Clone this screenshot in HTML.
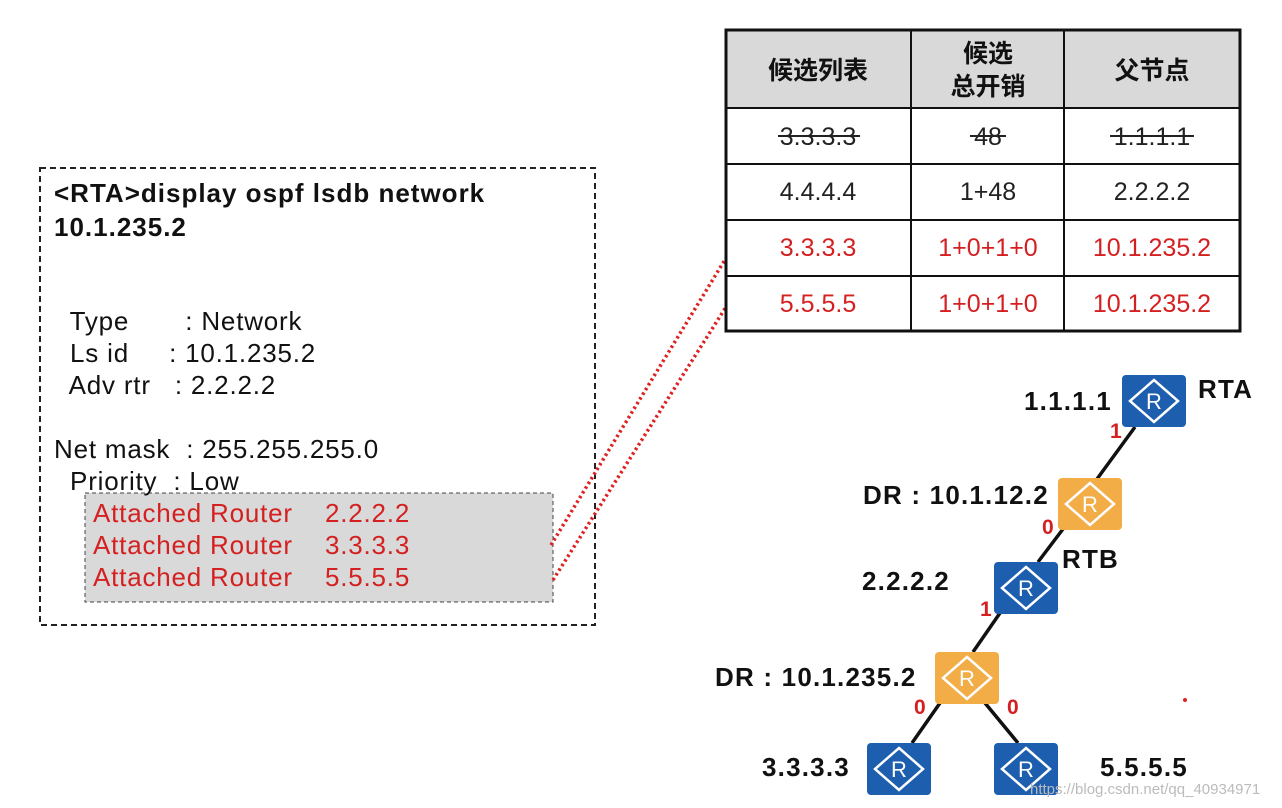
<!DOCTYPE html>
<html><head><meta charset="utf-8"><style>
body{margin:0;width:1282px;height:808px;background:#fff;overflow:hidden;position:relative;font-family:"Liberation Sans","Noto Sans CJK SC",sans-serif}
.a{position:absolute;white-space:pre}
</style></head><body>
<svg width="1282" height="808" style="position:absolute;left:0;top:0" font-family="Liberation Sans, Noto Sans CJK SC, sans-serif">
<defs>
<g id="ri"><polygon points="32,5 56,26 32,47 8,26" fill="none" stroke="#fff" stroke-width="2.5"/><text x="32" y="34" fill="#fff" font-size="22" text-anchor="middle">R</text></g>
</defs>
<rect x="40" y="168" width="555" height="457" fill="none" stroke="#222" stroke-width="2" stroke-dasharray="6,4"/>
<rect x="85" y="493" width="468" height="109" fill="#d9d9d9" stroke="#444" stroke-width="1" stroke-dasharray="4,3"/>
<line x1="551" y1="545" x2="726" y2="258" stroke="#d22" stroke-width="3.5" stroke-dasharray="2.5,3"/>
<line x1="553" y1="580" x2="726" y2="307" stroke="#d22" stroke-width="3.5" stroke-dasharray="2.5,3"/>
<rect x="726" y="30" width="514" height="78" fill="#d9d9d9"/>
<g stroke="#111" stroke-width="2" fill="none">
<rect x="726" y="30" width="514" height="301" stroke-width="3"/>
<line x1="911" y1="30" x2="911" y2="331"/><line x1="1064" y1="30" x2="1064" y2="331"/>
<line x1="726" y1="108" x2="1240" y2="108"/><line x1="726" y1="164" x2="1240" y2="164"/>
<line x1="726" y1="220" x2="1240" y2="220"/><line x1="726" y1="276" x2="1240" y2="276"/>
</g>
<g font-size="25" text-anchor="middle" font-weight="bold" fill="#111">
<text x="818" y="79">候选列表</text><text x="988" y="62">候选</text><text x="988" y="95">总开销</text><text x="1152" y="79">父节点</text>
</g>
<g font-size="25" text-anchor="middle" fill="#222">
<text x="818" y="145">3.3.3.3</text><text x="988" y="145">48</text><text x="1152" y="145">1.1.1.1</text>
<line x1="778" y1="136" x2="860" y2="136" stroke="#222" stroke-width="2"/><line x1="970" y1="136" x2="1006" y2="136" stroke="#222" stroke-width="2"/><line x1="1110" y1="136" x2="1194" y2="136" stroke="#222" stroke-width="2"/>
<text x="818" y="200">4.4.4.4</text><text x="988" y="200">1+48</text><text x="1152" y="200">2.2.2.2</text>
</g>
<g font-size="25" text-anchor="middle" fill="#d42020">
<text x="818" y="256">3.3.3.3</text><text x="988" y="256">1+0+1+0</text><text x="1152" y="256">10.1.235.2</text>
<text x="818" y="312">5.5.5.5</text><text x="988" y="312">1+0+1+0</text><text x="1152" y="312">10.1.235.2</text>
</g>
<g stroke="#111" stroke-width="3.5">
<line x1="1135" y1="427" x2="1097" y2="479"/><line x1="1063" y1="529" x2="1038" y2="562"/>
<line x1="1000" y1="613" x2="973" y2="652"/><line x1="940" y1="703" x2="912" y2="743"/><line x1="985" y1="703" x2="1018" y2="743"/>
</g>
<g transform="translate(1122,375)"><rect width="64" height="52" rx="4" fill="#1d5fae"/><use href="#ri"/></g>
<g transform="translate(1058,478)"><rect width="64" height="52" rx="4" fill="#f2ad47"/><use href="#ri"/></g>
<g transform="translate(994,562)"><rect width="64" height="52" rx="4" fill="#1d5fae"/><use href="#ri"/></g>
<g transform="translate(935,652)"><rect width="64" height="52" rx="4" fill="#f2ad47"/><use href="#ri"/></g>
<g transform="translate(867,743)"><rect width="64" height="52" rx="4" fill="#1d5fae"/><use href="#ri"/></g>
<g transform="translate(994,743)"><rect width="64" height="52" rx="4" fill="#1d5fae"/><use href="#ri"/></g>
<g font-size="26" font-weight="bold" fill="#111" letter-spacing="1.2">
<text x="1024" y="410">1.1.1.1</text><text x="1198" y="398">RTA</text>
<text x="863" y="504">DR : 10.1.12.2</text><text x="1062" y="568">RTB</text>
<text x="862" y="590">2.2.2.2</text><text x="715" y="686">DR : 10.1.235.2</text>
<text x="762" y="776">3.3.3.3</text><text x="1100" y="776">5.5.5.5</text>
</g>
<g font-size="21" font-weight="bold" fill="#d42020">
<text x="1110" y="438">1</text><text x="1042" y="534">0</text><text x="980" y="616">1</text><text x="914" y="714">0</text><text x="1007" y="714">0</text>
</g>
<circle cx="1185" cy="700" r="2" fill="#d22"/>
<text x="1030" y="794" font-size="15" fill="#bbb">https://blog.csdn.net/qq_40934971</text>
</svg>
<div class="a" style="left:54px;top:176px;font-size:26px;letter-spacing:1px;font-weight:bold;line-height:34px;color:#111">&lt;RTA&gt;display ospf lsdb network
10.1.235.2</div>
<div class="a" style="left:54px;top:305px;font-size:26px;letter-spacing:0.8px;line-height:32px;color:#111">  Type       : Network
  Ls id     : 10.1.235.2
  Adv rtr   : 2.2.2.2

Net mask  : 255.255.255.0
  Priority  : Low</div>
<div class="a" style="left:93px;top:497px;font-size:26px;letter-spacing:0.8px;line-height:32px;color:#d42020">Attached Router    2.2.2.2
Attached Router    3.3.3.3
Attached Router    5.5.5.5</div>
</body></html>
